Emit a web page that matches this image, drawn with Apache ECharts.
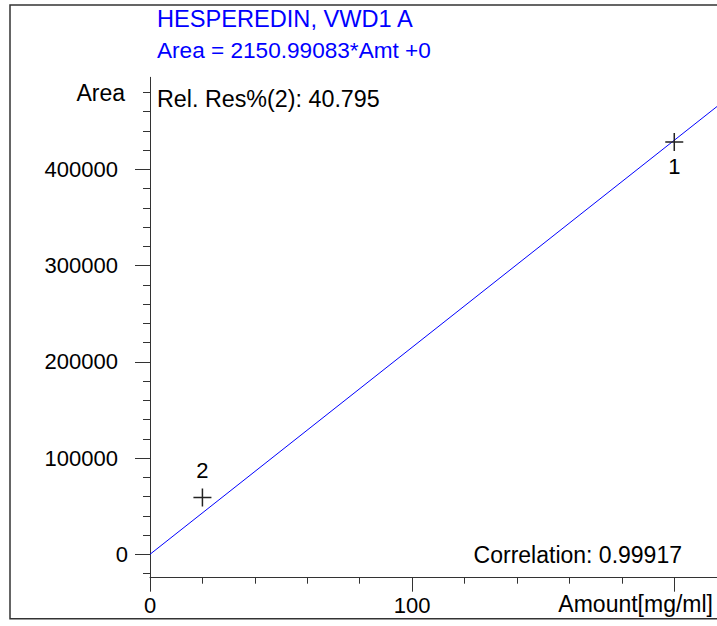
<!DOCTYPE html>
<html>
<head>
<meta charset="utf-8">
<script src="https://cdn.jsdelivr.net/npm/echarts@6/dist/echarts.min.js"></script>
<style>
  html, body { margin: 0; padding: 0; background: #fff; }
  #chart { width: 717px; height: 626px; }
</style>
</head>
<body>
<div id="chart"></div>
<script>
// ---- data ----
const pointLabels = ['1', '2'];
const amounts = [200, 20];            // Amount [mg/ml]
const areas = [428400, 59000];        // Area
const fitAmount = [0, 216.3];         // regression line ends
const fitArea = [0, 465260];
const xRange = [0, 216.3];
const yRange = [-24300, 495600];
const xMajorTicks = [0, 100, 200];
const xMinorTicks = [0, 20, 40, 60, 80, 100, 120, 140, 160, 180, 200];
const xTickLabels = [0, 100];
const yMajorTicks = [0, 100000, 200000, 300000, 400000];
const yMinorTicks = [-20000, 0, 20000, 40000, 60000, 80000, 100000, 120000, 140000, 160000, 180000,
  200000, 220000, 240000, 260000, 280000, 300000, 320000, 340000, 360000, 380000, 400000,
  420000, 440000, 460000, 480000];
const yTickLabels = [100000, 200000, 300000, 400000];
const yZeroLabel = [0];
const titleLines = ['HESPEREDIN, VWD1 A', 'Area = 2150.99083*Amt +0'];
const relResText = 'Rel. Res%(2): 40.795';
const correlationText = 'Correlation: 0.99917';
const xAxisName = 'Amount[mg/ml]';
const yAxisName = 'Area';

// ---- chart ----
const FONT = '"Liberation Sans", Arial, sans-serif';
const AXIS_COLOR = '#333';
const plain = v => String(v);
const chart = echarts.init(document.getElementById('chart'), null, { renderer: 'svg' });

const common = { type: 'value', splitLine: { show: false }, gridIndex: 0 };

const option = {
  animation: false,
  backgroundColor: '#fff',
  grid: { left: 150, right: 0, top: 77.3, bottom: 48.3, containLabel: false, outerBoundsMode: 'none' },
  xAxis: [
    Object.assign({}, common, {
      min: xRange[0], max: xRange[1], position: 'bottom',
      axisLine: { show: true, onZero: false, lineStyle: { color: AXIS_COLOR, width: 1 } },
      axisTick: { show: true, inside: false, length: 14, customValues: xMajorTicks, lineStyle: { color: AXIS_COLOR } },
      axisLabel: { show: true, customValues: xTickLabels, formatter: plain, margin: 17, fontSize: 22, color: '#000', fontFamily: FONT },
      name: xAxisName, nameLocation: 'end', nameGap: -4, nameMoveOverlap: false,
      nameTextStyle: { align: 'right', verticalAlign: 'top', padding: [15, 0, 0, 0], fontSize: 23, color: '#000', fontFamily: FONT }
    }),
    Object.assign({}, common, {
      min: xRange[0], max: xRange[1], position: 'bottom',
      axisLine: { show: false, onZero: false },
      axisTick: { show: true, inside: false, length: 6, customValues: xMinorTicks, lineStyle: { color: AXIS_COLOR } },
      axisLabel: { show: false }
    })
  ],
  yAxis: [
    Object.assign({}, common, {
      min: yRange[0], max: yRange[1], position: 'left',
      axisLine: { show: true, onZero: false, lineStyle: { color: AXIS_COLOR, width: 1 } },
      axisTick: { show: true, inside: false, length: 15, customValues: yMajorTicks, lineStyle: { color: AXIS_COLOR } },
      axisLabel: { show: true, customValues: yTickLabels, formatter: plain, margin: 32, fontSize: 22, color: '#000', fontFamily: FONT },
      name: yAxisName, nameLocation: 'end', nameGap: -16, nameMoveOverlap: false,
      nameTextStyle: { align: 'right', verticalAlign: 'middle', padding: [0, 25, 0, 0], fontSize: 23, color: '#000', fontFamily: FONT }
    }),
    Object.assign({}, common, {
      min: yRange[0], max: yRange[1], position: 'left',
      axisLine: { show: false, onZero: false },
      axisTick: { show: true, inside: false, length: 7, customValues: yMinorTicks, lineStyle: { color: AXIS_COLOR } },
      axisLabel: { show: true, customValues: yZeroLabel, formatter: plain, margin: 22, fontSize: 22, color: '#000', fontFamily: FONT }
    })
  ],
  series: [
    {
      type: 'line',
      xAxisIndex: 0, yAxisIndex: 0,
      data: fitAmount.map((a, i) => [a, fitArea[i]]),
      showSymbol: false, symbol: 'none',
      lineStyle: { color: '#0000ff', width: 1 },
      z: 2, silent: true
    },
    {
      type: 'scatter',
      xAxisIndex: 0, yAxisIndex: 0,
      data: amounts.map((a, i) => ({
        value: [a, areas[i]],
        name: pointLabels[i],
        label: { position: i === 0 ? 'bottom' : 'top', distance: i === 0 ? 4 : 6 }
      })),
      symbol: 'path://M0,10L20,10M10,0L10,20',
      symbolSize: 18,
      itemStyle: { color: 'rgba(0,0,0,0)', borderColor: '#222', borderWidth: 1.5, opacity: 1 },
      label: { show: true, formatter: p => p.name, fontSize: 22, color: '#000', fontFamily: FONT },
      z: 3
    }
  ],
  graphic: [
    { type: 'rect', silent: true, z: -1,
      shape: { x: 10, y: 5, width: 730, height: 613.7 },
      style: { fill: 'none', stroke: '#333', lineWidth: 1.5 } },
    { type: 'text', x: 157, y: 19,
      style: { text: titleLines[0], fill: '#0000ff', font: '23.6px ' + FONT, verticalAlign: 'middle', align: 'left' } },
    { type: 'text', x: 157, y: 50,
      style: { text: titleLines[1], fill: '#0000ff', font: '22.6px ' + FONT, verticalAlign: 'middle', align: 'left' } },
    { type: 'text', x: 157, y: 99,
      style: { text: relResText, fill: '#000', font: '23.3px ' + FONT, verticalAlign: 'middle', align: 'left' } },
    { type: 'text', x: 682, y: 554.5,
      style: { text: correlationText, fill: '#000', font: '23px ' + FONT, verticalAlign: 'middle', align: 'right' } }
  ]
};
chart.setOption(option);
</script>
</body>
</html>
